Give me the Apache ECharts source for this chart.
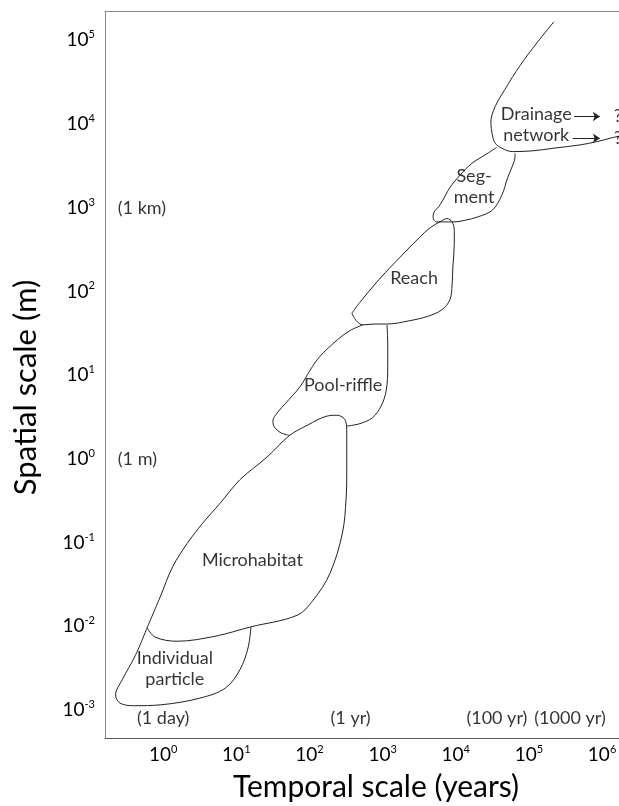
<!DOCTYPE html>
<html>
<head>
<meta charset="utf-8">
<script src="https://cdn.jsdelivr.net/npm/echarts@6/dist/echarts.min.js"></script>
<style>
  html, body { margin: 0; padding: 0; background: #ffffff; }
  #chart { width: 619px; height: 806px; }
</style>
</head>
<body>
<div id="chart"></div>
<script>
// Hierarchy of stream habitat units on log-log space/time axes.
// All outline points are [log10 time, log10 space] (time in days, space in metres).

const FONT = 'Lato, "Open Sans", sans-serif';

// Visible axis ranges, as powers of ten
const timeRange = [-0.795, 6.259];
const spaceRange = [-3.336, 5.35];

// Outlines of each habitat unit (shared borders are drawn once)
const particleEdge = [[-0.22,-2.02],[-0.38,-2.35],[-0.56,-2.64],[-0.65,-2.82],[-0.59,-2.92],[-0.39,-2.95],
  [-0.04,-2.94],[0.50,-2.86],[0.85,-2.74],[1.05,-2.52],[1.16,-2.26],[1.20,-2.01]];

const microhabitatEdge = [[-0.22,-2.02],[-0.04,-1.65],[0.13,-1.29],[0.33,-1.01],[0.54,-0.77],[0.78,-0.53],
  [1.05,-0.25],[1.42,0.02],[1.73,0.28],[1.97,0.40],[2.24,0.51],[2.38,0.52],[2.49,0.46],[2.51,0.31],
  [2.51,-0.13],[2.50,-0.49],[2.45,-0.89],[2.28,-1.37],[2.05,-1.69],[1.83,-1.87],[1.19,-2.01],
  [0.71,-2.12],[0.19,-2.18],[-0.11,-2.13],[-0.22,-2.02]];

const poolRiffleLeft = [[1.73,0.28],[1.61,0.31],[1.52,0.38],[1.50,0.45],[1.57,0.56],[1.67,0.66],
  [1.87,0.86],[2.01,1.06],[2.14,1.22],[2.38,1.42],[2.55,1.53],[2.73,1.60]];

const poolRiffleRight = [[3.06,1.60],[3.07,1.36],[3.07,1.10],[3.05,0.82],[2.98,0.63],[2.86,0.49],
  [2.69,0.42],[2.51,0.39]];

const reachEdge = [[2.58,1.74],[2.64,1.65],[2.73,1.60],[2.90,1.61],[3.06,1.61],[3.37,1.65],[3.61,1.70],
  [3.81,1.78],[3.92,1.90],[3.95,2.08],[3.96,2.29],[3.98,2.56],[3.98,2.73],[3.95,2.83],[3.88,2.87],
  [3.80,2.84],[3.65,2.76],[3.51,2.65],[3.24,2.41],[2.97,2.16],[2.69,1.87],[2.58,1.74]];

const segmentEdge = [[4.56,3.72],[4.40,3.63],[4.22,3.53],[4.06,3.39],[3.92,3.24],[3.79,3.04],[3.70,2.94],
  [3.69,2.88],[3.74,2.83],[3.85,2.83],[3.96,2.83],[4.13,2.85],[4.30,2.89],[4.50,2.97],[4.63,3.15],
  [4.71,3.36],[4.78,3.51],[4.81,3.61],[4.81,3.65]];

const drainageEdge = [[5.34,5.22],[5.11,4.97],[4.88,4.70],[4.67,4.41],[4.54,4.21],[4.48,4.02],[4.50,3.87],
  [4.54,3.77],[4.63,3.71],[4.78,3.67],[5.06,3.68],[5.33,3.71],[5.70,3.75],[5.93,3.79],[6.11,3.83],[6.31,3.87]];

// Arrows leading off the drainage network, with their open-ended marks
const arrowPaths = [[[5.62,4.09],[5.97,4.09]], [[5.60,3.83],[5.97,3.83]]];
const openEnds = [[6.164,4.09],[6.164,3.83]];

// Unit names and where they sit
const unitNames = ['Drainage\nnetwork', 'Seg-\nment', 'Reach', 'Pool-riffle', 'Microhabitat', 'Individual\nparticle'];
const unitCentres = [[5.10,3.99],[4.25,3.25],[3.43,2.16],[2.46,0.88],[1.22,-1.21],[0.16,-2.51]];

// Reference scales (days along x, metres along y)
const timeMarks = ['(1 day)', '(1 yr)', '(100 yr)', '(1000 yr)'];
const timeMarkDays = [1, 365, 36500, 365000];
const spaceMarks = ['(1 km)', '(1 m)'];
const spaceMarkMetres = [1000, 1];

const pow10 = e => Math.pow(10, e);
const toValues = pts => pts.map(p => [pow10(p[0]), pow10(p[1])]);

const strokeColor = '#222222';
const textColor = '#000000';

function outline(name, pts) {
  return {
    type: 'line', name: name, data: toValues(pts),
    smooth: 0.35, symbol: 'none', clip: true, silent: true, z: 3,
    lineStyle: { color: strokeColor, width: 1 }
  };
}

function textLayer(name, points, labels, align) {
  return {
    type: 'scatter', name: name, silent: true, z: 4, clip: false,
    symbolSize: 1, itemStyle: { color: 'rgba(0,0,0,0)' },
    data: points.map((p, i) => ({ name: labels[i], value: p })),
    label: {
      show: true, position: 'inside', formatter: '{b}', align: align || 'center',
      color: textColor, fontFamily: FONT, fontSize: 18, lineHeight: 21
    }
  };
}

function powerLabel(v) {
  const e = Math.log10(v);
  const n = Math.round(e);
  if (Math.abs(e - n) > 1e-6) return '';
  return '{b|10}{s|' + n + '}';
}
const powerRich = {
  b: { fontSize: 19, fontFamily: FONT, color: textColor, lineHeight: 22 },
  s: { fontSize: 11, fontFamily: FONT, color: textColor, verticalAlign: 'top' }
};

const chart = echarts.init(document.getElementById('chart'), null, { renderer: 'canvas' });

const series = [
  outline('Individual particle', particleEdge),
  outline('Microhabitat', microhabitatEdge),
  outline('Pool-riffle', poolRiffleLeft),
  outline('Pool-riffle ', poolRiffleRight),
  outline('Reach', reachEdge),
  outline('Segment', segmentEdge),
  Object.assign(outline('Drainage network', drainageEdge), {
    markLine: {
      silent: true, symbol: ['none', 'arrow'], symbolSize: 7, precision: 6,
      label: { show: false },
      lineStyle: { color: strokeColor, width: 1, type: 'solid' },
      data: arrowPaths.map(a => [{ coord: toValues(a)[0] }, { coord: toValues(a)[1] }])
    }
  }),
  textLayer('units', toValues(unitCentres), unitNames),
  textLayer('open ends', toValues(openEnds), openEnds.map(() => '?'), 'left'),
  textLayer('time marks', timeMarkDays.map(d => [d, pow10(-3.1)]), timeMarks),
  textLayer('space marks', spaceMarkMetres.map(m => [pow10(-0.62), m]), spaceMarks, 'left')
];

const hiddenAxisParts = {
  axisTick: { show: false }, splitLine: { show: false }, minorTick: { show: false }
};

chart.setOption({
  animation: false,
  backgroundColor: '#ffffff',
  grid: {
    left: 105, top: 11, bottom: 68, right: -2,
    outerBoundsMode: 'none', containLabel: false, show: false
  },
  xAxis: [
    Object.assign({
      type: 'log', logBase: 10, min: pow10(timeRange[0]), max: pow10(timeRange[1]),
      name: 'Temporal scale (years)', nameLocation: 'middle', nameGap: 34,
      nameTextStyle: { fontFamily: FONT, fontSize: 30, color: textColor, padding: [0, 0, 0, 26] },
      axisLine: { show: true, lineStyle: { color: '#555555', width: 1 } },
      axisLabel: { formatter: powerLabel, rich: powerRich, margin: 6, hideOverlap: false }
    }, hiddenAxisParts),
    // frame line along the top of the plot
    Object.assign({
      type: 'log', logBase: 10, min: pow10(timeRange[0]), max: pow10(timeRange[1]),
      position: 'top',
      axisLine: { show: true, lineStyle: { color: '#8a8a8a', width: 1 } },
      axisLabel: { show: false }
    }, hiddenAxisParts)
  ],
  yAxis: Object.assign({
    type: 'log', logBase: 10, min: pow10(spaceRange[0]), max: pow10(spaceRange[1]),
    name: 'Spatial scale (m)', nameLocation: 'middle', nameRotate: 90, nameGap: 64,
    nameTextStyle: { fontFamily: FONT, fontSize: 31, color: textColor, padding: [0, 26, 0, 0] },
    axisLine: { show: true, lineStyle: { color: '#8a8a8a', width: 1 } },
    axisLabel: { formatter: powerLabel, rich: powerRich, margin: 10, hideOverlap: false }
  }, hiddenAxisParts),
  series: series
});
</script>
</body>
</html>
